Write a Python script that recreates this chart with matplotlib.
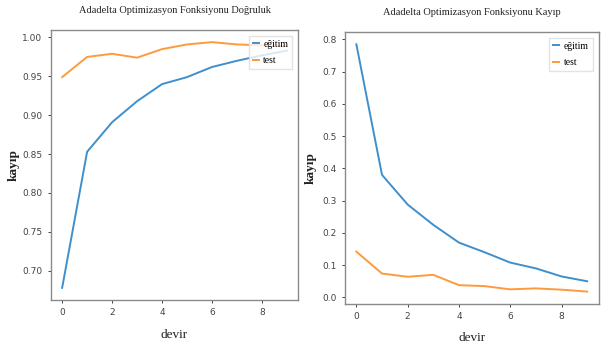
import matplotlib
matplotlib.use("Agg")
import matplotlib.pyplot as plt

# Data
epochs = list(range(10))
acc_train = [0.678, 0.853, 0.891, 0.918, 0.940, 0.949, 0.962, 0.970, 0.977, 0.983]
acc_test = [0.949, 0.975, 0.979, 0.974, 0.985, 0.991, 0.994, 0.991, 0.990, 0.989]
loss_train = [0.785, 0.380, 0.288, 0.225, 0.170, 0.140, 0.108, 0.090, 0.065, 0.050]
loss_test = [0.142, 0.074, 0.064, 0.070, 0.038, 0.035, 0.025, 0.028, 0.024, 0.018]

titles = ["Adadelta Optimizasyon Fonksiyonu Doğruluk",
          "Adadelta Optimizasyon Fonksiyonu Kayıp"]
series_labels = ["eğitim", "test"]

BLUE = "#3f8fcc"
ORANGE = "#ff9a3c"
FRAME = "#8a8a8a"
SERIF = "Liberation Serif"

fig = plt.figure(figsize=(6.06, 3.47), dpi=100)
ax1 = fig.add_axes([0.084, 0.135, 0.408, 0.779])
ax2 = fig.add_axes([0.569, 0.124, 0.419, 0.784])

panels = [(ax1, acc_train, acc_test), (ax2, loss_train, loss_test)]
for (ax, tr, te), title in zip(panels, titles):
    ax.plot(epochs, tr, color=BLUE, lw=1.4, label=series_labels[0])
    ax.plot(epochs, te, color=ORANGE, lw=1.4, label=series_labels[1])
    ax.set_xticks([0, 2, 4, 6, 8])
    for sp in ax.spines.values():
        sp.set_color(FRAME)
        sp.set_linewidth(1.0)
    ax.tick_params(colors="#444444", labelsize=6.5, length=2.5, width=0.7)
    ax.set_title(title, fontsize=7.5, family=SERIF, pad=12, color="#222222")
    ax.set_xlabel("devir", fontsize=9.5, family=SERIF, labelpad=8, color="#222222")
    ax.set_ylabel("kayıp", fontsize=9.5, family=SERIF, fontweight="bold",
                  color="#222222")
    ax.legend(loc="upper right", prop={"family": SERIF, "size": 7},
              handlelength=0.6, handletextpad=0.5, borderaxespad=0.6,
              labelspacing=0.8, framealpha=0.8, fancybox=False,
              edgecolor="#dddddd")

ax1.yaxis.set_label_coords(-0.125, 0.5)
ax2.yaxis.set_label_coords(-0.11, 0.5)
ax1.yaxis.set_major_formatter(matplotlib.ticker.FormatStrFormatter("%.2f"))

fig.savefig("out.png", dpi=100, facecolor="white")
